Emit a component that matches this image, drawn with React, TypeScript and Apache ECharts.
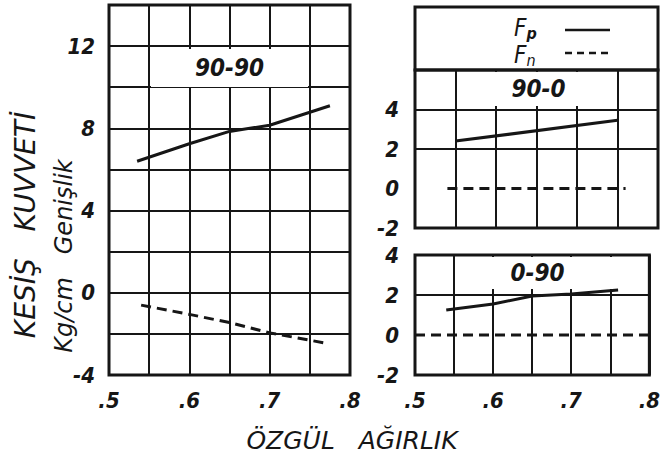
import React, { useEffect, useRef } from "react";
import * as echarts from "echarts";

// x: specific gravity (ÖZGÜL AĞIRLIK), y: cutting force Kg/cm width
const panelNames = ["90-90", "90-0", "0-90"];

const fp9090X = [0.535, 0.6, 0.65, 0.7, 0.775];
const fp9090Y = [6.4, 7.25, 7.85, 8.15, 9.1];
const fn9090X = [0.54, 0.6, 0.65, 0.7, 0.77];
const fn9090Y = [-0.6, -1.05, -1.45, -1.95, -2.45];

const fp900X = [0.55, 0.75];
const fp900Y = [2.4, 3.45];
const fn900X = [0.54, 0.76];
const fn900Y = [0, 0];

const fp090X = [0.54, 0.6, 0.65, 0.7, 0.76];
const fp090Y = [1.25, 1.55, 1.95, 2.05, 2.25];
const fn090X = [0.5, 0.8];
const fn090Y = [0, 0];

const xMin = 0.5;
const xMax = 0.8;
const yRanges = [
  [-4, 14],
  [-2, 6],
  [-2, 4],
];
// horizontal grid lines drawn in the right-hand panels (no solid line at 0)
const rightGridLines = [
  [2, 4],
  [2],
];

const INK = "#161616";
const FONT = "'DejaVu Sans Condensed', 'Liberation Sans Narrow', 'DejaVu Sans', sans-serif";

const zip = (xs: number[], ys: number[]) => xs.map((x, i) => [x, ys[i]]);

export default function App() {
  const ref = useRef<HTMLDivElement>(null);

  useEffect(() => {
    if (!ref.current) return;
    const chart = echarts.init(ref.current, undefined, { renderer: "svg" });

    const grids = [
      { left: 109, top: 5, width: 241, height: 370 },
      { left: 415, top: 70, width: 243, height: 158 },
      { left: 415, top: 255, width: 243, height: 120 },
    ];

    const xLabel = (v: number) => {
      const h = Math.round(v * 100);
      return h % 10 === 0 ? "." + Math.round(v * 10) : "";
    };

    const xAxes = grids.map((_, i) => ({
      type: "value",
      gridIndex: i,
      min: xMin,
      max: xMax,
      interval: 0.05,
      axisLine: { show: false },
      axisTick: { show: false },
      splitLine: { show: true, lineStyle: { color: INK, width: 2 } },
      axisLabel: {
        show: i !== 1,
        formatter: xLabel,
        margin: 14,
        fontSize: 22,
        fontStyle: "italic",
        fontWeight: "bold",
        fontFamily: FONT,
        color: INK,
      },
    }));

    const yAxes = grids.map((_, i) => ({
      type: "value",
      gridIndex: i,
      min: yRanges[i][0],
      max: yRanges[i][1],
      interval: 2,
      axisLine: { show: false },
      axisTick: { show: false },
      splitLine: { show: i === 0, lineStyle: { color: INK, width: 2 } },
      axisLabel: {
        formatter: (v: number) => {
          if (i === 0) return v % 4 === 0 ? String(v) : "";
          if (i === 1) return v <= 4 ? String(v) : "";
          return String(v);
        },
        margin: i === 0 ? 14 : 16,
        fontSize: 22,
        fontStyle: "italic",
        fontWeight: "bold",
        fontFamily: FONT,
        color: INK,
      },
    }));

    const lineSeries = (idx: number, data: number[][], dashed: boolean, hLines?: number[]) => ({
      type: "line",
      xAxisIndex: idx,
      yAxisIndex: idx,
      data,
      showSymbol: false,
      symbol: "none",
      smooth: false,
      z: 5,
      lineStyle: {
        color: INK,
        width: 3,
        type: dashed ? [10, 6] : "solid",
      },
      markLine: hLines
        ? {
            silent: true,
            symbol: "none",
            z: 2,
            label: { show: false },
            lineStyle: { color: INK, width: 2, type: "solid" },
            data: hLines.map((v) => ({ yAxis: v })),
          }
        : undefined,
    });

    const labelBox = (x: number, y: number, w: number, h: number, text: string) => [
      {
        type: "rect",
        shape: { x, y, width: w, height: h },
        style: { fill: "#fff" },
        z: 3,
      },
      {
        type: "text",
        x: x + w / 2,
        y: y + h / 2,
        style: {
          text,
          fontSize: 24,
          fontStyle: "italic",
          fontWeight: "bold",
          fontFamily: FONT,
          fill: INK,
          align: "center",
          verticalAlign: "middle",
        },
        z: 4,
      },
    ];

    const option: any = {
      animation: false,
      backgroundColor: "#fff",
      grid: grids.map((g) => ({
        ...g,
        show: true,
        borderColor: INK,
        borderWidth: 3,
        backgroundColor: "transparent",
      })),
      xAxis: xAxes,
      yAxis: yAxes,
      series: [
        lineSeries(0, zip(fp9090X, fp9090Y), false),
        lineSeries(0, zip(fn9090X, fn9090Y), true),
        lineSeries(1, zip(fp900X, fp900Y), false, rightGridLines[0]),
        lineSeries(1, zip(fn900X, fn900Y), true),
        lineSeries(2, zip(fp090X, fp090Y), false, rightGridLines[1]),
        lineSeries(2, zip(fn090X, fn090Y), true),
      ],
      graphic: [
        // panel labels
        ...labelBox(151, 49, 157, 38, panelNames[0]),
        ...labelBox(460, 72, 157, 34, panelNames[1]),
        ...labelBox(458, 257, 159, 32, panelNames[2]),
        // legend box
        {
          type: "rect",
          shape: { x: 415, y: 7, width: 243, height: 63 },
          style: { fill: "none", stroke: INK, lineWidth: 3 },
          z: 6,
        },
        {
          type: "text",
          x: 514,
          y: 28,
          style: {
            rich: {
              f: { fontSize: 24, fontStyle: "italic", fontFamily: FONT, fill: INK },
              s: { fontSize: 16, fontStyle: "italic", fontWeight: "bold", fontFamily: FONT, fill: INK, padding: [10, 0, 0, 0] },
            },
            text: "{f|F}{s|p}",
            verticalAlign: "middle",
          },
          z: 6,
        },
        {
          type: "text",
          x: 514,
          y: 55,
          style: {
            rich: {
              f: { fontSize: 24, fontStyle: "italic", fontFamily: FONT, fill: INK },
              s: { fontSize: 16, fontStyle: "italic", fontFamily: FONT, fill: INK, padding: [10, 0, 0, 0] },
            },
            text: "{f|F}{s|n}",
            verticalAlign: "middle",
          },
          z: 6,
        },
        {
          type: "line",
          shape: { x1: 565, y1: 30, x2: 610, y2: 30 },
          style: { stroke: INK, lineWidth: 2.5 },
          z: 6,
        },
        {
          type: "line",
          shape: { x1: 565, y1: 53, x2: 613, y2: 53 },
          style: { stroke: INK, lineWidth: 2.5, lineDash: [7, 5] },
          z: 6,
        },
        // axis titles
        {
          type: "text",
          x: 25,
          y: 225,
          rotation: Math.PI / 2,
          style: {
            text: "KESİŞ   KUVVETİ",
            fontSize: 28,
            fontStyle: "italic",
            fontFamily: "'DejaVu Sans', sans-serif",
            fill: INK,
            align: "center",
            verticalAlign: "middle",
          },
        },
        {
          type: "text",
          x: 64,
          y: 256,
          rotation: Math.PI / 2,
          style: {
            text: "Kg/cm   Genişlik",
            fontSize: 24,
            fontStyle: "italic",
            fontFamily: "'DejaVu Sans', sans-serif",
            fill: INK,
            align: "center",
            verticalAlign: "middle",
          },
        },
        {
          type: "text",
          x: 352,
          y: 440,
          style: {
            text: "ÖZGÜL   AĞIRLIK",
            fontSize: 25,
            fontStyle: "italic",
            fontFamily: "'DejaVu Sans', sans-serif",
            fill: INK,
            align: "center",
            verticalAlign: "middle",
          },
        },
      ],
    };

    chart.setOption(option);
    return () => chart.dispose();
  }, []);

  return (
    <div
      ref={ref}
      style={{ position: "fixed", left: 0, top: 0, width: 663, height: 459, background: "#fff" }}
    />
  );
}
